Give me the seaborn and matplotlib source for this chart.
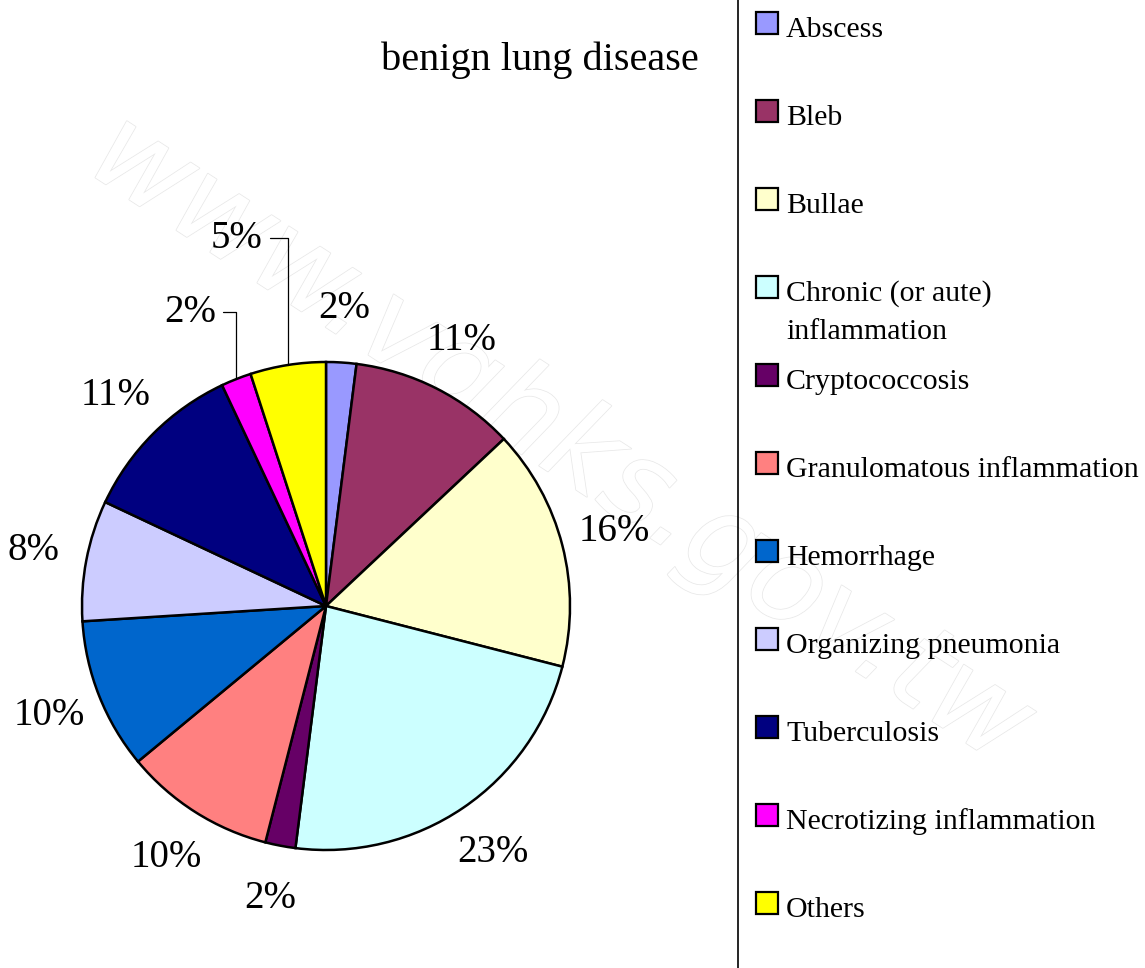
import matplotlib
matplotlib.use("Agg")
import matplotlib.pyplot as plt
import matplotlib.patheffects as pe
from matplotlib.patches import Rectangle
from matplotlib.lines import Line2D
import numpy as np
import seaborn as sns

# data
categories = ["Abscess", "Bleb", "Bullae", "Chronic (or aute)\ninflammation", "Cryptococcosis",
              "Granulomatous inflammation", "Hemorrhage", "Organizing pneumonia", "Tuberculosis",
              "Necrotizing inflammation", "Others"]
percent = [2, 11, 16, 23, 2, 10, 10, 8, 11, 2, 5]
colors = ["#9999FF", "#993366", "#FFFFCC", "#CCFFFF", "#660066", "#FF8080",
          "#0066CC", "#CCCCFF", "#000080", "#FF00FF", "#FFFF00"]
title = "benign lung disease"
watermark = "www.vghks.gov.tw"

sns.set_theme(style="white")
plt.rcParams['font.family'] = ['Liberation Serif', 'DejaVu Serif']
plt.rcParams['text.color'] = 'black'

W, H = 1145, 968
fig = plt.figure(figsize=(W / 100, H / 100), dpi=100)

# pie geometry in pixels
R = 244
cx, cy = 326, 606
ax = fig.add_axes([0, 0, 652 / W, (H - 150) / H])

wedges, texts, autotexts = ax.pie(
    percent, colors=colors, startangle=90, counterclock=False,
    autopct=lambda p: f"{p:.0f}%", pctdistance=1.22,
    wedgeprops=dict(edgecolor='black', linewidth=1.8),
    textprops=dict(fontsize=28, color='black'))
ax.set_xlim(-326 / R, 326 / R)
ax.set_ylim(-(H - cy) / R, (cy - 150) / R)
ax.set_aspect('auto')
ax.axis('off')

# small top slices get labels pulled out with elbow leader lines
callouts = {9: (-0.19, 0.275), 10: (-0.21, 0.52)}
for i, (dx, dy) in callouts.items():
    w = wedges[i]
    ang = np.deg2rad((w.theta1 + w.theta2) / 2)
    x, y = np.cos(ang), np.sin(ang)
    autotexts[i].set_visible(False)
    ax.annotate(autotexts[i].get_text(), xy=(x, y), xytext=(x + dx, y + dy),
                ha='center', va='center', fontsize=28, color='black',
                arrowprops=dict(arrowstyle='-', color='black', lw=0.9,
                                connectionstyle='angle,angleA=0,angleB=90,rad=0',
                                relpos=(1, 0.5), shrinkA=3, shrinkB=0))

# legend drawn as fixed rows
for i, (lab, col) in enumerate(zip(categories, colors)):
    base = 37 + 88 * i
    fig.add_artist(Rectangle((756 / W, 1 - (base - 3) / H), 22 / W, 22 / H,
                             transform=fig.transFigure, facecolor=col,
                             edgecolor='black', lw=1.6))
    for j, line in enumerate(lab.split('\n')):
        fig.text(786 / W, 1 - (base + 38 * j) / H, line, fontsize=21.5,
                 va='baseline', ha='left', color='black')

fig.add_artist(Line2D([738 / W, 738 / W], [0, 1], transform=fig.transFigure,
                      color='black', lw=1.2))

fig.text(540 / W, 1 - 60 / H, title, fontsize=29, ha='center', va='center', color='black')

# faint outlined watermark behind everything
fig.text(560 / W, 1 - 440 / H, watermark, fontsize=85, rotation=-33,
         ha='center', va='center', color='white', style='italic',
         family='DejaVu Sans', zorder=-1,
         path_effects=[pe.Stroke(linewidth=1.1, foreground='#e8e8e8'), pe.Normal()])

fig.savefig("out.png", dpi=100, facecolor='white')
